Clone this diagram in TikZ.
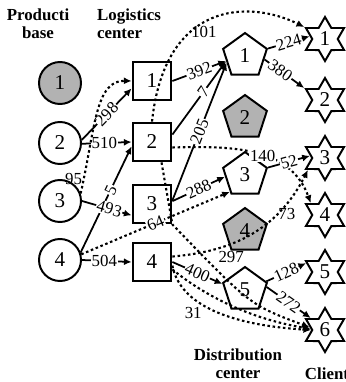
\documentclass[tikz,border=0pt]{standalone}
\usepackage{fontspec}
\setmainfont{Liberation Serif}
\usetikzlibrary{shapes.geometric,arrows.meta}

\begin{document}
\begin{tikzpicture}[x=0.025cm,y=-0.025cm,
  box/.style={draw,line width=1.4pt,inner sep=0pt,font=\fontsize{15}{15}\selectfont},
  base/.style={box,circle,minimum size=1.05cm},
  logi/.style={box,rectangle,minimum size=0.97cm},
  dist/.style={box,regular polygon,regular polygon sides=5,minimum size=1.15cm},
  cli/.style={box,star,star points=6,star point ratio=1.73,minimum size=1.1cm},
  shut/.style={fill=black!30},
  head/.style={font=\fontsize{12}{13}\bfseries\selectfont},
  tag/.style={inner sep=0.6pt,font=\fontsize{12}{12}\selectfont},
  lab/.style={tag,fill=white},
  slab/.style={lab,sloped},
  flow/.style={line width=1.25pt,-{Latex[length=5.5pt,width=5pt]}},
  plan/.style={flow,line width=1.5pt,dash pattern=on 1.8pt off 1.9pt}]
\useasboundingbox (0,0) rectangle (346,382);
\node[head,align=center] (hbase) at (38,24) {Producti\\base};
\node[head,align=left] (hlogi) at (129,24) {Logistics\\center};
\node[head,align=center] (hdist) at (238,364) {Distribution\\center};
\node[head,anchor=west] (hcli) at (300,374) {Client};
\node[base,shut] (P1) at (60,83) {1};
\node[base] (P2) at (60,143) {2};
\node[base] (P3) at (60,201) {3};
\node[base] (P4) at (60,260) {4};
\node[logi] (L1) at (152,81) {1};
\node[logi] (L2) at (152,142) {2};
\node[logi] (L3) at (152,204) {3};
\node[logi] (L4) at (152,262) {4};
\node[dist] (D1) at (245,56) {1};
\node[dist,shut] (D2) at (245,118) {2};
\node[dist] (D3) at (245,175) {3};
\node[dist,shut] (D4) at (245,231) {4};
\node[dist] (D5) at (245,290) {5};
\node[cli] (C1) at (325,39) {1};
\node[cli] (C2) at (325,100) {2};
\node[cli] (C3) at (325,158) {3};
\node[cli] (C4) at (325,215) {4};
\node[cli] (C5) at (325,272) {5};
\node[cli] (C6) at (325,330) {6};
\draw[flow] (P2.8) -- node[slab,pos=0.5]{298} (L1.200);
\draw[flow] (P2.-2) -- node[lab,pos=0.45]{510} (L2.west);
\draw[plan] (P3.20) .. controls (95,130) and (95,80) .. (L1.180) node[tag,pos=0.08,left]{95};
\draw[flow] (P4.20) -- node[slab,pos=0.59]{5} (L2.192);
\draw[flow] (P3.east) -- node[slab,pos=0.55]{493} (L3.209);
\draw[flow] (P4.east) -- node[lab,pos=0.45]{504} (L4.west);
\draw[plan] (P4.15) -- node[slab,pos=0.5]{64} (D3.228);
\draw[flow] (L1.east) -- node[slab]{392} (D1.195);
\draw[flow] (L2.20) -- node[slab,pos=0.58]{7} (D1.195);
\draw[flow] (L3.10) -- node[slab,pos=0.5]{205} (D1.200);
\draw[flow] (L3.8) -- node[slab]{288} (D3.185);
\draw[plan] (L2.north) .. controls (165,0) and (250,0) .. (C1.150) node[tag,pos=0.45,below=1pt]{101};
\draw[plan] (L2.-15) .. controls (230,146) and (290,146) .. (C4.140) node[lab,pos=0.55]{140};
\draw[plan] (L4.15) .. controls (225,252) and (275,235) .. (C3.215) node[tag,pos=0.72,right]{73};
\draw[flow] (D1.18) -- node[slab]{224} (C1.170);
\draw[flow] (D1.-10) -- node[slab,pos=0.4]{380} (C2.150);
\draw[flow] (D3.18) -- node[slab]{52} (C3.172);
\draw[flow] (L4.east) -- node[slab]{400} (D5.165);
\draw[plan] (L2.-65) -- (L3.south east) .. controls (250,305) .. (C6.170) node[tag,pos=0.22,above right=2pt]{297};
\draw[plan] (L4.-10) .. controls (180,305) and (230,325) .. (C6.180) node[tag,pos=0.42,below left]{31};
\draw[plan] (L4.-20) .. controls (200,292) and (245,318) .. (C6.175);
\draw[flow] (D5.22) -- node[slab]{128} (C5.155);
\draw[flow] (D5.8) -- node[slab]{272} (C6.140);
\end{tikzpicture}
\end{document}
